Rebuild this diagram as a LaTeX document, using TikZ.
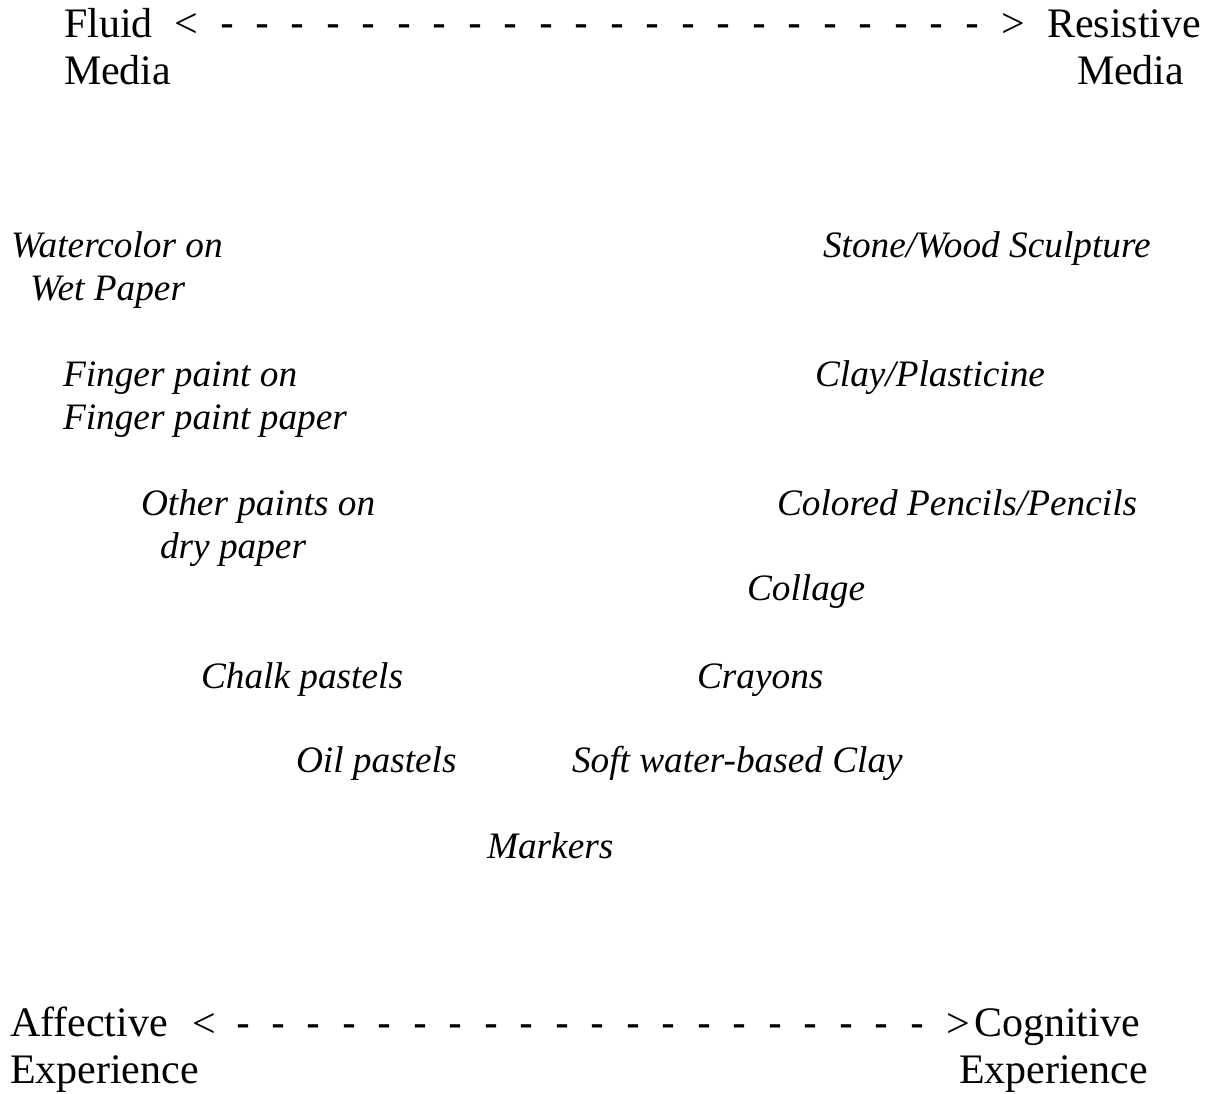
\documentclass[tikz,border=0pt]{standalone}
\usepackage{fontspec}
\setmainfont{Liberation Serif}
\newfontfamily\dashfont{Liberation Sans}
\begin{document}
\begin{tikzpicture}[x=1pt,y=-1pt,
  every node/.style={inner sep=0pt,outer sep=0pt,anchor=base west},
  axislabel/.style={font=\fontsize{42}{47}\selectfont,align=left},
  axisdash/.style={font=\fontsize{42}{47}\selectfont},
  medium/.style={font=\fontsize{37.3}{42.5}\selectfont\itshape,align=left}]
\useasboundingbox[fill=white] (0,0) rectangle (1213,1093);
% top axis (two-line nodes are placed by the baseline of their last line)
\node[axislabel] (fluid) at (64,84) {Fluid\\Media};
\node[axisdash] (toparrow) at (174,37) {\makebox[46pt][l]{<}\foreach \i in {1,...,22}{\makebox[35.5pt][l]{\dashfont -}}>};
\node[axislabel] (resistive) at (1047,84) {Resistive\\\hspace*{30pt}Media};
% bottom axis
\node[axislabel] (affective) at (10,1083) {Affective\\Experience};
\node[axisdash] (botarrow) at (192,1037) {\makebox[44pt][l]{<}\foreach \i in {1,...,20}{\makebox[35.5pt][l]{\dashfont -}}>};
\node[axislabel] (cognitive) at (959,1083) {\hspace*{15pt}Cognitive\\Experience};
% media
\node[medium] (watercolor) at (11,300) {Watercolor on\\\hspace*{19pt}Wet Paper};
\node[medium] (finger) at (63,429) {Finger paint on\\Finger paint paper};
\node[medium] (other) at (141,558) {Other paints on\\\hspace*{19pt}dry paper};
\node[medium] (chalk) at (201,688) {Chalk pastels};
\node[medium] (oil) at (296,772) {Oil pastels};
\node[medium] (markers) at (487,858) {Markers};
\node[medium] (stone) at (823,257) {Stone/Wood Sculpture};
\node[medium] (clay) at (815,386) {Clay/Plasticine};
\node[medium] (pencils) at (777,515) {Colored Pencils/Pencils};
\node[medium] (collage) at (747,600) {Collage};
\node[medium] (crayons) at (697,688) {Crayons};
\node[medium] (softclay) at (572,772) {Soft water-based Clay};
\end{tikzpicture}
\end{document}
